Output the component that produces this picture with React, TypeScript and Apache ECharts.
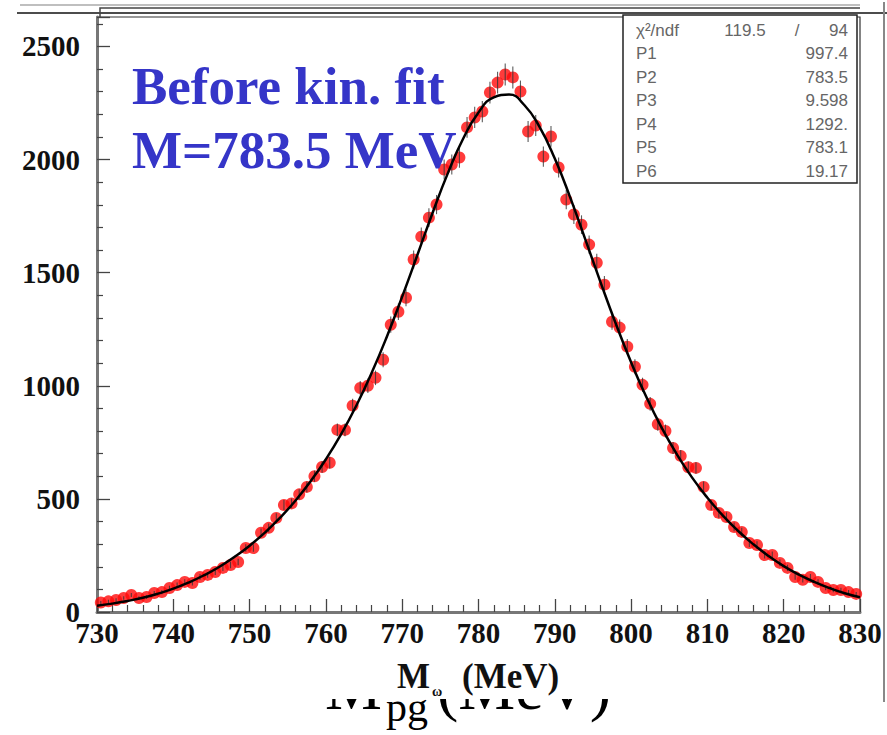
import React, { useEffect, useRef } from "react";
import * as echarts from "echarts";

// Histogram counts, one per 1 MeV bin from 730 to 830 (bin centres 730.5 ... 829.5)
const binStart = 730.5;
const counts = [
  42, 47, 53, 62, 75, 62, 66, 84, 88, 106,
  119, 133, 128, 155, 164, 177, 195, 208, 221, 283,
  283, 350, 372, 416, 473, 480, 520, 553, 600, 641,
  660, 805, 805, 912, 990, 1000, 1035, 1115, 1270, 1327,
  1389, 1558, 1659, 1743, 1801, 1956, 1978, 2009, 2142, 2186,
  2212, 2296, 2340, 2376, 2363, 2301, 2124, 2150, 2013, 2102,
  1965, 1823, 1757, 1712, 1624, 1544, 1447, 1283, 1257, 1173,
  1084, 1004, 920, 830, 800, 725, 690, 640, 637, 553,
  473, 438, 420, 376, 354, 305, 296, 252, 252, 217,
  195, 155, 142, 155, 133, 106, 97, 97, 88, 80,
];

// Fitted curve read every 2 MeV from 730 to 830
const fitStart = 730;
const fitStep = 2;
const fitValues = [
  28, 37, 49, 63, 81, 103, 130, 162, 199, 243,
  293, 351, 417, 492, 578, 675, 786, 913, 1057, 1218,
  1394, 1579, 1766, 1941, 2093, 2208, 2275, 2287, 2241, 2144,
  2004, 1834, 1647, 1457, 1274, 1104, 950, 815, 697, 594,
  505, 427, 359, 300, 248, 203, 165, 133, 106, 83, 65,
];

const statsLabels = ["P1", "P2", "P3", "P4", "P5", "P6"];
const statsValues = ["997.4", "783.5", "9.598", "1292.", "783.1", "19.17"];
const chi2 = "119.5";
const ndf = "94";

const titleLines = ["Before kin. fit", "M=783.5 MeV"];

export default function App() {
  const ref = useRef<HTMLDivElement>(null);
  useEffect(() => {
    if (!ref.current) return;
    const chart = echarts.init(ref.current, null, { renderer: "svg" });
    const points = counts.map((v, i) => [binStart + i, v]);
    const errs = counts.map((v, i) => [binStart + i, v, Math.sqrt(v)]);
    const fit = fitValues.map((v, i) => [fitStart + fitStep * i, v]);

    const serif = "'Liberation Serif', 'Times New Roman', serif";
    const sans = "'Liberation Sans', 'DejaVu Sans', sans-serif";

    const statsText: any[] = [];
    const rowY0 = 30;
    const rowDy = 23.5;
    const statFont = `17px ${sans}`;
    statsText.push({
      type: "text", x: 636, y: rowY0, z: 20,
      style: { text: "χ²/ndf", font: statFont, fill: "#666", verticalAlign: "middle" },
    });
    statsText.push({
      type: "text", x: 745, y: rowY0, z: 20,
      style: { text: chi2, font: statFont, fill: "#666", verticalAlign: "middle", align: "center" },
    });
    statsText.push({
      type: "text", x: 797, y: rowY0, z: 20,
      style: { text: "/", font: statFont, fill: "#666", verticalAlign: "middle", align: "center" },
    });
    statsText.push({
      type: "text", x: 848, y: rowY0, z: 20,
      style: { text: ndf, font: statFont, fill: "#666", verticalAlign: "middle", align: "right" },
    });
    statsLabels.forEach((l, i) => {
      statsText.push({
        type: "text", x: 636, y: rowY0 + rowDy * (i + 1), z: 20,
        style: { text: l, font: statFont, fill: "#666", verticalAlign: "middle" },
      });
      statsText.push({
        type: "text", x: 848, y: rowY0 + rowDy * (i + 1), z: 20,
        style: { text: statsValues[i], font: statFont, fill: "#666", verticalAlign: "middle", align: "right" },
      });
    });

    chart.setOption({
      animation: false,
      backgroundColor: "#fff",
      grid: {
        left: 97, right: 27, top: 17, bottom: 123,
        show: true, borderColor: "#333", borderWidth: 1.2, backgroundColor: "transparent",
      },
      xAxis: {
        type: "value", min: 730, max: 830, interval: 10,
        axisLine: { show: true, onZero: false, lineStyle: { color: "#777", width: 3 } },
        axisTick: { show: true, inside: true, length: 13, lineStyle: { color: "#444", width: 1.3 } },
        minorTick: { show: true, splitNumber: 5, length: 7, lineStyle: { color: "#444", width: 1.2 } },
        splitLine: { show: false },
        axisLabel: {
          fontFamily: serif, fontWeight: "bold", fontSize: 29, color: "#111", margin: 6,
          formatter: (v: number) => String(v),
        },
      },
      yAxis: {
        type: "value", min: 0, max: 2630, interval: 500,
        axisLine: { show: true, lineStyle: { color: "#777", width: 3 } },
        axisTick: { show: true, inside: true, length: 13, lineStyle: { color: "#444", width: 1.3 } },
        minorTick: { show: true, splitNumber: 5, length: 6, lineStyle: { color: "#444", width: 1.2 } },
        splitLine: { show: false },
        axisLabel: {
          fontFamily: serif, fontWeight: "bold", fontSize: 29, color: "#111", margin: 17,
          formatter: (v: number) => (v % 500 === 0 ? String(v) : ""),
        },
      },
      series: [
        {
          type: "scatter", data: points, symbol: "circle", symbolSize: 12,
          itemStyle: { color: "#ff0a0a" }, z: 3,
        },
        {
          type: "custom", data: errs, z: 4,
          renderItem: (params: any, api: any) => {
            const x = api.value(0), y = api.value(1), e = api.value(2);
            const p1 = api.coord([x, y + e]);
            const p2 = api.coord([x, y - e]);
            return {
              type: "line",
              shape: { x1: p1[0], y1: p1[1], x2: p2[0], y2: p2[1] },
              style: { stroke: "#333", lineWidth: 1.1, opacity: 0.8 },
            };
          },
        },
        {
          type: "line", data: fit, smooth: true, showSymbol: false, symbol: "none",
          lineStyle: { color: "#000", width: 2.5 }, z: 5,
        },
      ],
      graphic: [
        // decorative frame lines at the top
        { type: "line", z: 10, shape: { x1: 20, y1: 5, x2: 860, y2: 5 }, style: { stroke: "#aaa", lineWidth: 1.5 } },
        { type: "line", z: 10, shape: { x1: 17, y1: 13, x2: 887, y2: 13 }, style: { stroke: "#111", lineWidth: 1.5 } },
        { type: "polyline", z: 10, shape: { points: [[100, 17], [100, 8], [860, 8]] }, style: { stroke: "#444", lineWidth: 1.5, fill: "none" } },
        { type: "line", z: 10, shape: { x1: 884, y1: 2, x2: 884, y2: 702 }, style: { stroke: "#888", lineWidth: 2 } },
        // stats box
        { type: "rect", z: 19, shape: { x: 623, y: 15, width: 234, height: 168 }, style: { fill: "#fff", stroke: "#222", lineWidth: 1.5 } },
        ...statsText,
        // title
        {
          type: "text", x: 132, y: 86, z: 20,
          style: { text: titleLines[0], font: `bold 53px ${serif}`, fill: "#3535c8", verticalAlign: "middle" },
        },
        {
          type: "text", x: 132, y: 150, z: 20,
          style: { text: titleLines[1], font: `bold 53px ${serif}`, fill: "#3535c8", verticalAlign: "middle" },
        },
        // partially hidden old axis title
        {
          type: "text", x: 325, y: 687, z: 20,
          style: { text: "M", font: `64px ${serif}`, fill: "#000", verticalAlign: "middle" },
        },
        {
          type: "text", x: 386, y: 707, z: 20,
          style: { text: "pg", font: `42px ${serif}`, fill: "#000", verticalAlign: "middle" },
        },
        {
          type: "text", x: 437, y: 687, z: 20,
          style: { text: "(MeV)", font: `64px ${serif}`, fill: "#000", verticalAlign: "middle" },
        },
        { type: "rect", z: 21, shape: { x: 300, y: 650, width: 340, height: 49 }, style: { fill: "#fff" } },
        // axis title
        {
          type: "text", x: 397, y: 676, z: 22,
          style: { text: "M", font: `bold 35px ${serif}`, fill: "#111", verticalAlign: "middle" },
        },
        {
          type: "text", x: 432, y: 691, z: 22,
          style: { text: "ω", font: `bold 14px ${serif}`, fill: "#111", verticalAlign: "middle" },
        },
        {
          type: "text", x: 462, y: 676, z: 22,
          style: { text: "(MeV)", font: `bold 35px ${serif}`, fill: "#111", verticalAlign: "middle" },
        },
      ],
    });
    return () => chart.dispose();
  }, []);
  return (
    <div
      ref={ref}
      style={{ position: "fixed", left: 0, top: 0, width: 887, height: 735, background: "#fff" }}
    />
  );
}
